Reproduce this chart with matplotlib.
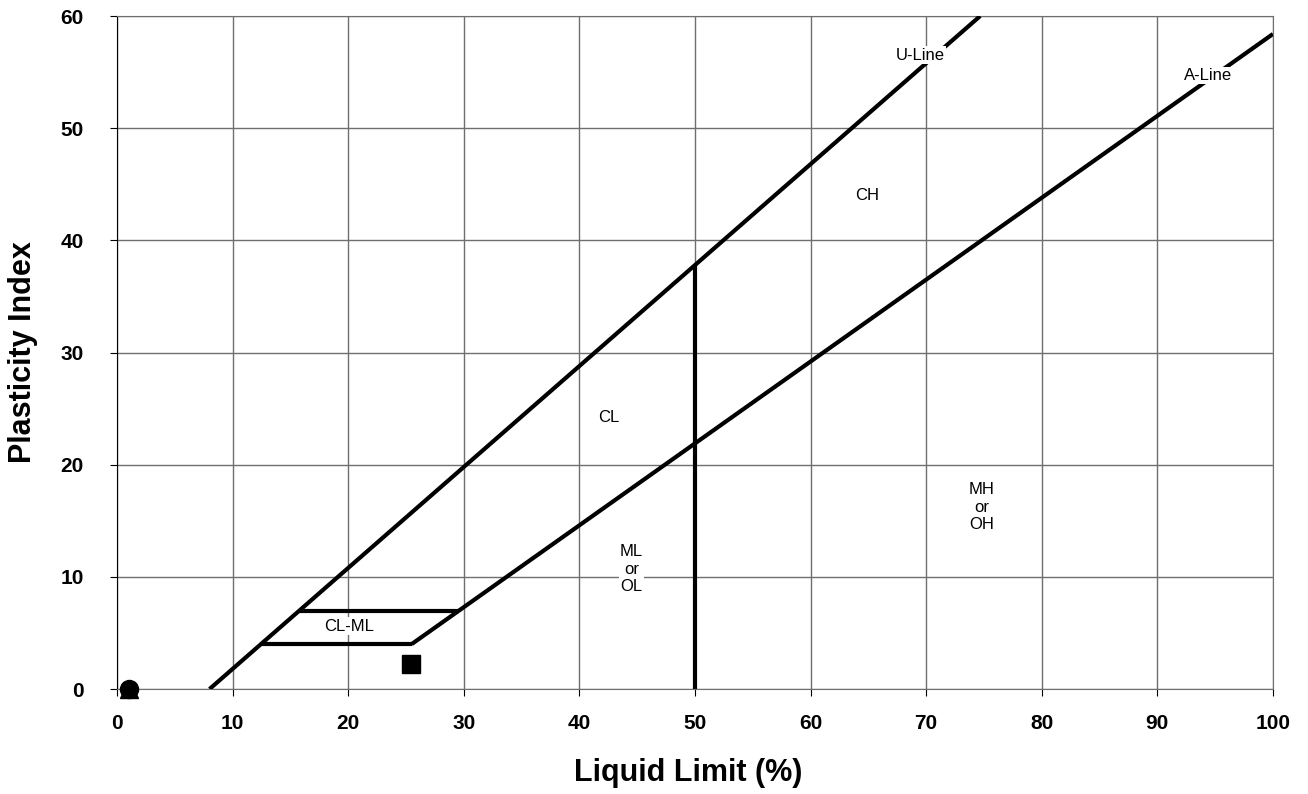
import matplotlib
matplotlib.use('Agg')
import matplotlib.pyplot as plt
import numpy as np

plt.rcParams['font.family'] = ['Liberation Sans', 'DejaVu Sans']

# chart boundary lines (liquid limit, plasticity index)
u_line_ll = [8, 74.67]
u_line_pi = [0, 60]
a_line_ll = [25.48, 100]
a_line_pi = [4, 58.4]
clml_top_ll = [15.78, 29.59]
clml_top_pi = [7, 7]
clml_bot_ll = [12.44, 25.48]
clml_bot_pi = [4, 4]
split_ll = [50, 50]
split_pi = [0, 37.8]

zone_labels = ['U-Line', 'A-Line', 'CH', 'CL', 'CL-ML', 'ML\nor\nOL', 'MH\nor\nOH']
zone_x = [69.5, 94.4, 64.9, 42.5, 20.1, 44.5, 74.8]
zone_y = [56.5, 54.7, 44.0, 24.2, 5.6, 10.7, 16.2]

# sample points
circle_ll, circle_pi = [1], [0]
tri_ll, tri_pi = [1], [0]
square_ll, square_pi = [25.4], [2.2]

fig = plt.figure(figsize=(13.08, 7.94), dpi=100)
ax = fig.add_axes([0.0895, 0.1322, 0.8837, 0.8476])

ax.set_xlim(0, 100)
ax.set_ylim(0, 60)
ax.set_xticks(np.arange(0, 101, 10))
ax.set_yticks(np.arange(0, 61, 10))
ax.grid(True, color='#6f6f6f', linewidth=1)
ax.set_axisbelow(True)
for s in ['top', 'right', 'bottom']:
    ax.spines[s].set_color('#6f6f6f')
ax.spines['left'].set_color('black')
ax.tick_params(axis='both', direction='out', length=5, color='black', labelsize=15)
ax.tick_params(axis='x', pad=13)
ax.tick_params(axis='y', pad=19)
for lab in ax.get_xticklabels() + ax.get_yticklabels():
    lab.set_fontweight('bold')

lw = 3
for xs, ys in [(u_line_ll, u_line_pi), (a_line_ll, a_line_pi), (clml_top_ll, clml_top_pi),
               (clml_bot_ll, clml_bot_pi), (split_ll, split_pi)]:
    ax.plot(xs, ys, color='black', linewidth=lw, solid_capstyle='butt', zorder=3)

for t, x, y in zip(zone_labels, zone_x, zone_y):
    ax.text(x, y, t, ha='center', va='center', fontsize=12, linespacing=1.2,
            bbox=dict(facecolor='white', edgecolor='none', pad=1), zorder=4)

ax.plot(tri_ll, tri_pi, marker='^', color='black', markersize=13, linestyle='none', clip_on=False, zorder=5)
ax.plot(circle_ll, circle_pi, marker='o', color='black', markersize=13, linestyle='none', clip_on=False, zorder=6)
ax.plot(square_ll, square_pi, marker='s', color='black', markersize=13, linestyle='none', clip_on=False, zorder=6)

ax.set_xlabel('Liquid Limit (%)', fontsize=22, fontweight='bold')
ax.xaxis.set_label_coords(0.494, -0.102)
ax.set_ylabel('Plasticity Index', fontsize=22, fontweight='bold', labelpad=16)

fig.savefig('out.png', dpi=100)
